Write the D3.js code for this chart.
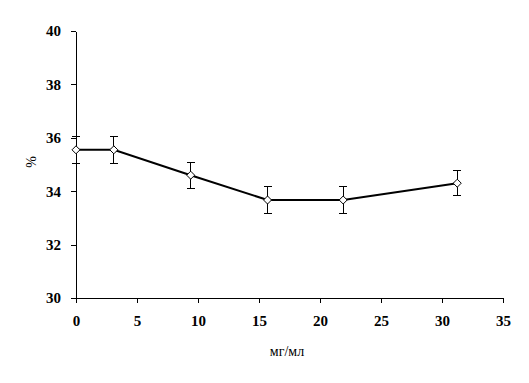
<!DOCTYPE html>
<html><head><meta charset="utf-8">
<script src="https://cdn.jsdelivr.net/npm/d3@7"></script>
<style>body{margin:0;background:#fff;}svg{display:block;}</style>
</head><body><div id="chart"></div>
<script>
const xValues = [0, 3.1, 9.4, 15.7, 21.9, 31.25];
const yValues = [35.55, 35.55, 34.6, 33.67, 33.67, 34.3];
const yErrors = [0.5, 0.5, 0.49, 0.5, 0.5, 0.47];
const xTicks = [0, 5, 10, 15, 20, 25, 30, 35];
const yTicks = [30, 32, 34, 36, 38, 40];
const xTitle = "мг/мл";
const yTitle = "%";

const W = 529, H = 383;
const svg = d3.select("#chart").append("svg").attr("width", W).attr("height", H);
const x = d3.scaleLinear().domain([0, 35]).range([76, 503]);
const y = d3.scaleLinear().domain([30, 40]).range([298, 31]);
const font = "'Liberation Serif','Times New Roman',serif";

const xa = svg.append("g").attr("transform", "translate(0,298)")
  .call(d3.axisBottom(x).tickValues(xTicks).tickSize(5).tickPadding(12).tickSizeOuter(0));
const ya = svg.append("g").attr("transform", "translate(76,0)")
  .call(d3.axisLeft(y).tickValues(yTicks).tickSize(5).tickPadding(10).tickSizeOuter(0));
[xa, ya].forEach(a => {
  a.attr("font-family", null).attr("font-size", null);
  a.selectAll("path,line").attr("stroke", "#000").attr("stroke-width", 1).attr("shape-rendering", "crispEdges");
  a.selectAll("text").style("font-family", font).style("font-weight", "bold").style("font-size", "15px").attr("fill", "#000");
});

const data = xValues.map((v, i) => ({x: v, y: yValues[i], e: yErrors[i]}));
const eb = svg.append("g").attr("stroke", "#000").attr("stroke-width", 1).attr("shape-rendering", "crispEdges");
data.forEach(d => {
  eb.append("line").attr("x1", x(d.x)).attr("x2", x(d.x)).attr("y1", y(d.y - d.e)).attr("y2", y(d.y + d.e));
  [d.y - d.e, d.y + d.e].forEach(v => eb.append("line").attr("x1", x(d.x) - 4).attr("x2", x(d.x) + 4).attr("y1", y(v)).attr("y2", y(v)));
});

svg.append("path").datum(data)
  .attr("d", d3.line().x(d => x(d.x)).y(d => y(d.y)))
  .attr("fill", "none").attr("stroke", "#000").attr("stroke-width", 2);

svg.append("g").selectAll("path").data(data).join("path")
  .attr("transform", d => `translate(${x(d.x)},${y(d.y)})`)
  .attr("d", "M0,-4L4,0L0,4L-4,0Z")
  .attr("fill", "#fff").attr("stroke", "#000").attr("stroke-width", 1);

svg.append("text").attr("x", 287).attr("y", 356).attr("text-anchor", "middle")
  .style("font-family", font).style("font-size", "14px").text(xTitle);
svg.append("text").attr("transform", "translate(36,162) rotate(-90)").attr("text-anchor", "middle")
  .style("font-family", font).style("font-size", "14px").text(yTitle);
</script></body></html>
